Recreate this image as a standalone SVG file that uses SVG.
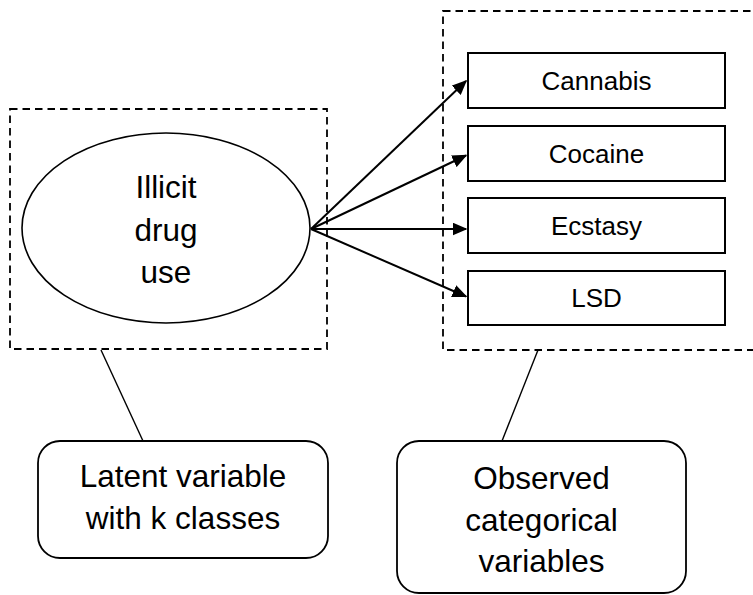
<svg xmlns="http://www.w3.org/2000/svg" width="753" height="595" viewBox="0 0 753 595">
  <defs>
    <marker id="arrow" viewBox="0 0 10 10" refX="9" refY="5" markerWidth="15" markerHeight="13" markerUnits="userSpaceOnUse" orient="auto" preserveAspectRatio="none">
      <path d="M0,0 L10,5 L0,10 z" fill="#000"/>
    </marker>
    <style>
      .dash { fill: none; stroke: #000; stroke-width: 1.8; stroke-dasharray: 7.5 5; }
      .box { fill: #fff; stroke: #000; stroke-width: 2; }
      .node { fill: #fff; stroke: #000; stroke-width: 1.6; }
      .edge { fill: none; stroke: #000; stroke-width: 2; marker-end: url(#arrow); }
      .lead { fill: none; stroke: #000; stroke-width: 1.4; }
      .big { font-family: "Liberation Sans", Arial, sans-serif; font-size: 31.5px; text-anchor: middle; fill: #000; }
      .small { font-family: "Liberation Sans", Arial, sans-serif; font-size: 26px; text-anchor: middle; fill: #000; }
    </style>
  </defs>
  <rect width="753" height="595" fill="#fff"/>

  <!-- grouping frames -->
  <g id="latent-frame">
    <rect class="dash" x="10" y="109" width="317" height="240"/>
  </g>
  <g id="observed-frame">
    <rect class="dash" x="443" y="11" width="330" height="339"/>
  </g>

  <!-- latent variable -->
  <g id="latent">
    <ellipse class="node" cx="166" cy="228" rx="144" ry="95"/>
    <text class="big" x="166" y="198">Illicit</text>
    <text class="big" x="166" y="240.5">drug</text>
    <text class="big" x="166" y="283">use</text>
  </g>

  <!-- indicators -->
  <g id="cannabis">
    <rect class="box" x="468" y="53" width="257" height="55"/>
    <text class="small" x="596.5" y="89.5">Cannabis</text>
  </g>
  <g id="cocaine">
    <rect class="box" x="468" y="126" width="257" height="55"/>
    <text class="small" x="596.5" y="162.5">Cocaine</text>
  </g>
  <g id="ecstasy">
    <rect class="box" x="468" y="198" width="257" height="55"/>
    <text class="small" x="596.5" y="234.5">Ecstasy</text>
  </g>
  <g id="lsd">
    <rect class="box" x="468" y="271" width="257" height="54"/>
    <text class="small" x="596.5" y="307">LSD</text>
  </g>

  <!-- callouts -->
  <g id="latent-note">
    <rect class="box" x="38" y="441" width="290" height="117" rx="22" ry="22" style="stroke-width:1.8"/>
    <text class="big" x="183" y="487">Latent variable</text>
    <text class="big" x="183" y="528.5">with k classes</text>
  </g>
  <g id="observed-note">
    <rect class="box" x="397" y="441" width="289" height="152" rx="22" ry="22" style="stroke-width:1.8"/>
    <text class="big" x="541.5" y="489">Observed</text>
    <text class="big" x="541.5" y="530.5">categorical</text>
    <text class="big" x="541.5" y="572">variables</text>
  </g>

  <!-- connectors -->
  <g id="connectors">
    <line class="edge" x1="311" y1="229" x2="466" y2="81"/>
    <line class="edge" x1="311" y1="229" x2="466" y2="155.5"/>
    <line class="edge" x1="311" y1="229" x2="466" y2="229"/>
    <line class="edge" x1="311" y1="229" x2="466" y2="296.5"/>
    <line class="lead" x1="101" y1="350" x2="143" y2="441"/>
    <line class="lead" x1="538" y1="350" x2="502" y2="441"/>
  </g>
</svg>
